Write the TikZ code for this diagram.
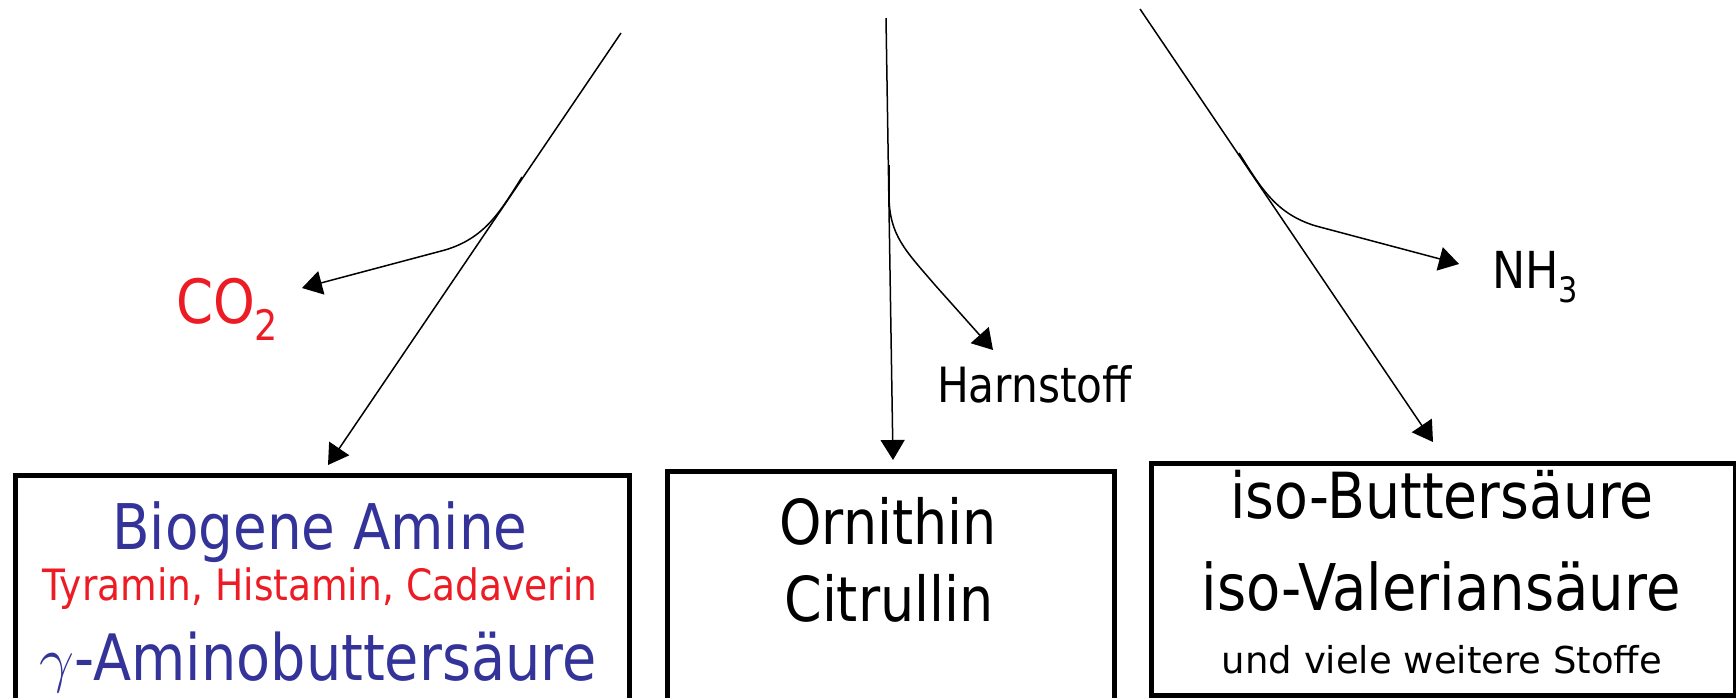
\documentclass[tikz,border=0pt]{standalone}
\usepackage{fontspec}
\usepackage{graphicx}
\setmainfont{DejaVu Sans}[FakeStretch=0.87]
\newfontfamily\widefont{DejaVu Sans}
\usetikzlibrary{arrows.meta}
\definecolor{amblue}{RGB}{51,51,153}
\definecolor{amred}{RGB}{237,28,36}
\newcommand\fs[1]{\fontsize{#1}{#1}\selectfont}
\begin{document}
\begin{tikzpicture}[x=0.5pt,y=-0.5pt,
  flow/.style={line width=0.75pt,-{Triangle[length=10pt,width=12pt]}},
  boxnode/.style={draw,line width=2.5pt,anchor=north west,inner sep=0pt},
  lbl/.style={inner sep=0pt,outer sep=0pt}]
\useasboundingbox (0,0) rectangle (1736,697);
\clip (0,0) rectangle (1736,697);
\fill[white] (0,0) rectangle (1736,697);

% boxes
\node[boxnode,minimum width=307.25pt,minimum height=133.5pt] (boxL) at (12.5,473) {};
\node[boxnode,minimum width=223.5pt,minimum height=135.5pt] (boxM) at (665,469) {};
\node[boxnode,minimum width=292pt,minimum height=116pt] (boxR) at (1149,461) {};

% box texts
\node[lbl,anchor=base,text=amblue,font=\fs{31.5}] (bio) at (320,549) {Biogene Amine};
\node[lbl,anchor=base,text=amred,font=\fs{21.6}] (tyr) at (320,600) {Tyramin, Histamin, Cadaverin};
\node[lbl,anchor=base,text=amblue,font=\fs{32}] (gaba) at (318,680) {\scalebox{1.25}{$\gamma$}-Aminobuttersäure};

\node[lbl,anchor=base,font=\fs{31}] (orn) at (888,544) {Ornithin};
\node[lbl,anchor=base,font=\fs{31}] (cit) at (889,621) {Citrullin};

\node[lbl,anchor=base,font=\fs{31.8}] (ibs) at (1442,518) {iso-Buttersäure};
\node[lbl,anchor=base,font=\fs{32.2}] (ivs) at (1441,610) {iso-Valeriansäure};
\node[lbl,anchor=base,font=\widefont\fs{18.5}] (und) at (1442,673) {und viele weitere Stoffe};

% side labels
\node[lbl,anchor=base west,text=amred,font=\fs{30.5}] (co2) at (176,323) {CO\raisebox{-8.5pt}{\fs{21}2}};
\node[lbl,anchor=base west,font=\fs{24.3}] (harn) at (937,402) {Harnstoff};
\node[lbl,anchor=base west,font=\fs{25.5}] (nh3) at (1492,288) {NH\raisebox{-7pt}{\fs{17.5}3}};

% coordinates
\coordinate (sL) at (621,33);
\coordinate (tL) at (328,465);
\coordinate (sM) at (886,18);
\coordinate (tM) at (893,460);
\coordinate (sR) at (1140,9);
\coordinate (tR) at (1433,442);
\coordinate (bL) at (522,177);
\coordinate (tCO) at (302,288);
\coordinate (bM) at (889,165);
\coordinate (tH) at (993,350);
\coordinate (bR) at (1239,153);
\coordinate (tN) at (1459,264);

% main arrows
\draw[flow] (sL) -- (tL);
\draw[flow] (sM) -- (tM);
\draw[flow] (sR) -- (tR);

% branches
\draw[flow] (bL) .. controls (500,212) and (485,238) .. (445,250) -- (tCO);
\draw[flow] (bM) -- (889,195) .. controls (889,235) and (905,250) .. (935,285) -- (tH);
\draw[flow] (bR) .. controls (1261,188) and (1276,214) .. (1316,226) -- (tN);
\end{tikzpicture}
\end{document}
